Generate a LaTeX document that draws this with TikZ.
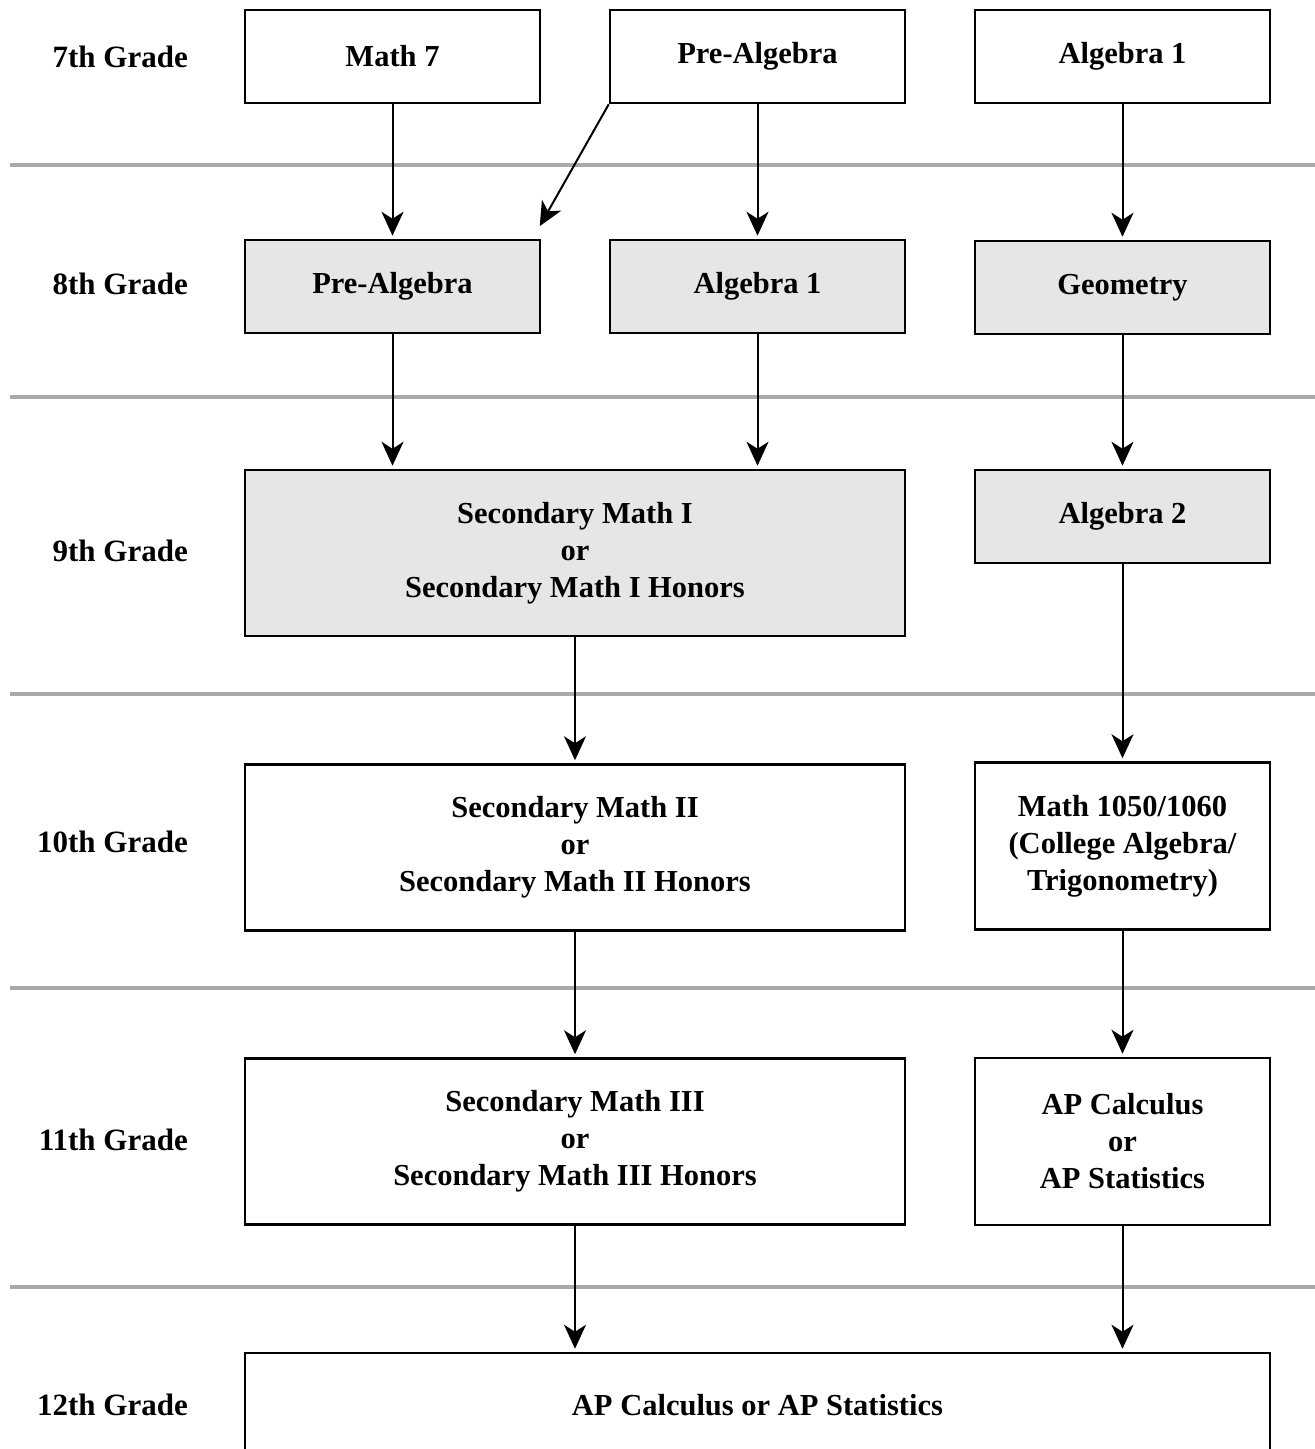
\documentclass[tikz,border=0pt]{standalone}
\usepackage{fontspec}
\setmainfont{Liberation Serif}
\usetikzlibrary{arrows.meta}
\definecolor{boxgray}{HTML}{E6E6E6}
\definecolor{sepgray}{HTML}{AAAAAA}
\begin{document}
\begin{tikzpicture}[x=1pt,y=-1pt]

		\tikzset{
		  course/.style={
			draw,
			line width=2.5pt,
			align=center,
			inner sep=0pt,
			font=\fontsize{30.5}{37}\selectfont\bfseries,
		  },
		  narrow/.style={course, minimum width=295pt, minimum height=93pt},
		  tall/.style={course, minimum width=295pt, minimum height=167pt},
		  wide/.style={course, minimum width=660pt, minimum height=166pt},
		  shaded/.style={fill=boxgray},
		  grade/.style={anchor=east, inner sep=0pt, font=\fontsize{31}{37}\selectfont\bfseries},
		  sep/.style={draw=sepgray, line width=4pt},
		  flow/.style={-{Stealth[length=24pt,width=22pt,inset=7pt]}, line width=2pt, shorten >=3pt},
		}
		\useasboundingbox (0,0) rectangle (1315,1449);
		\clip (0,0) rectangle (1315,1449);
		\draw[sep] (10,165)--(1315,165);
		\draw[sep] (10,397)--(1315,397);
		\draw[sep] (10,694)--(1315,694);
		\draw[sep] (10,988)--(1315,988);
		\draw[sep] (10,1287)--(1315,1287);
		\node[grade] (g7) at (188,57) {7th Grade};
		\node[grade] (g8) at (188,284) {8th Grade};
		\node[grade] (g9) at (188,551) {9th Grade};
		\node[grade] (g10) at (188,842) {10th Grade};
		\node[grade] (g11) at (188,1140) {11th Grade};
		\node[grade] (g12) at (188,1405) {12th Grade};
		\node[narrow] (m7) at (392.5,56.5) {Math 7};
		\node[narrow] (pa7) at (757.5,56.5) {Pre-Algebra};
		\node[narrow] (a7) at (1122.5,56.5) {Algebra 1};
		\node[narrow,shaded] (pa8) at (392.5,286.5) {Pre-Algebra};
		\node[narrow,shaded] (a8) at (757.5,286.5) {Algebra 1};
		\node[narrow,shaded] (geo8) at (1122.5,287.5) {Geometry};
		\node[wide,shaded] (sm1) at (575,553) {Secondary Math I\\or\\Secondary Math I Honors};
		\node[narrow,shaded] (a29) at (1122.5,516.5) {Algebra 2};
		\node[wide] (sm2) at (575,847.5) {Secondary Math II\\or\\Secondary Math II Honors};
		\node[tall] (col10) at (1122.5,846) {Math 1050/1060\\(College Algebra/\\Trigonometry)};
		\node[wide] (sm3) at (575,1141.5) {Secondary Math III\\or\\Secondary Math III Honors};
		\node[tall] (ap11) at (1122.5,1141.5) {AP Calculus\\or\\AP Statistics};
		\node[course, minimum width=1025pt, minimum height=104pt] (ap12) at (757.5,1405) {AP Calculus or AP Statistics};
		\draw[flow] (m7.south)--(pa8.north);
		\draw[flow] (pa7.south west)--([shift={(-3,-10)}]pa8.north east);
		\draw[flow] (pa7.south)--(a8.north);
		\draw[flow] (a7.south)--(geo8.north);
		\draw[flow] (pa8.south)--(pa8.south |- sm1.north);
		\draw[flow] (a8.south)--(a8.south |- sm1.north);
		\draw[flow] (geo8.south)--(a29.north);
		\draw[flow] (sm1.south)--(sm2.north);
		\draw[flow] (a29.south)--(col10.north);
		\draw[flow] (sm2.south)--(sm3.north);
		\draw[flow] (col10.south)--(ap11.north);
		\draw[flow] (sm3.south)--(sm3.south |- ap12.north);
		\draw[flow] (ap11.south)--(ap11.south |- ap12.north);

\end{tikzpicture}
\end{document}
